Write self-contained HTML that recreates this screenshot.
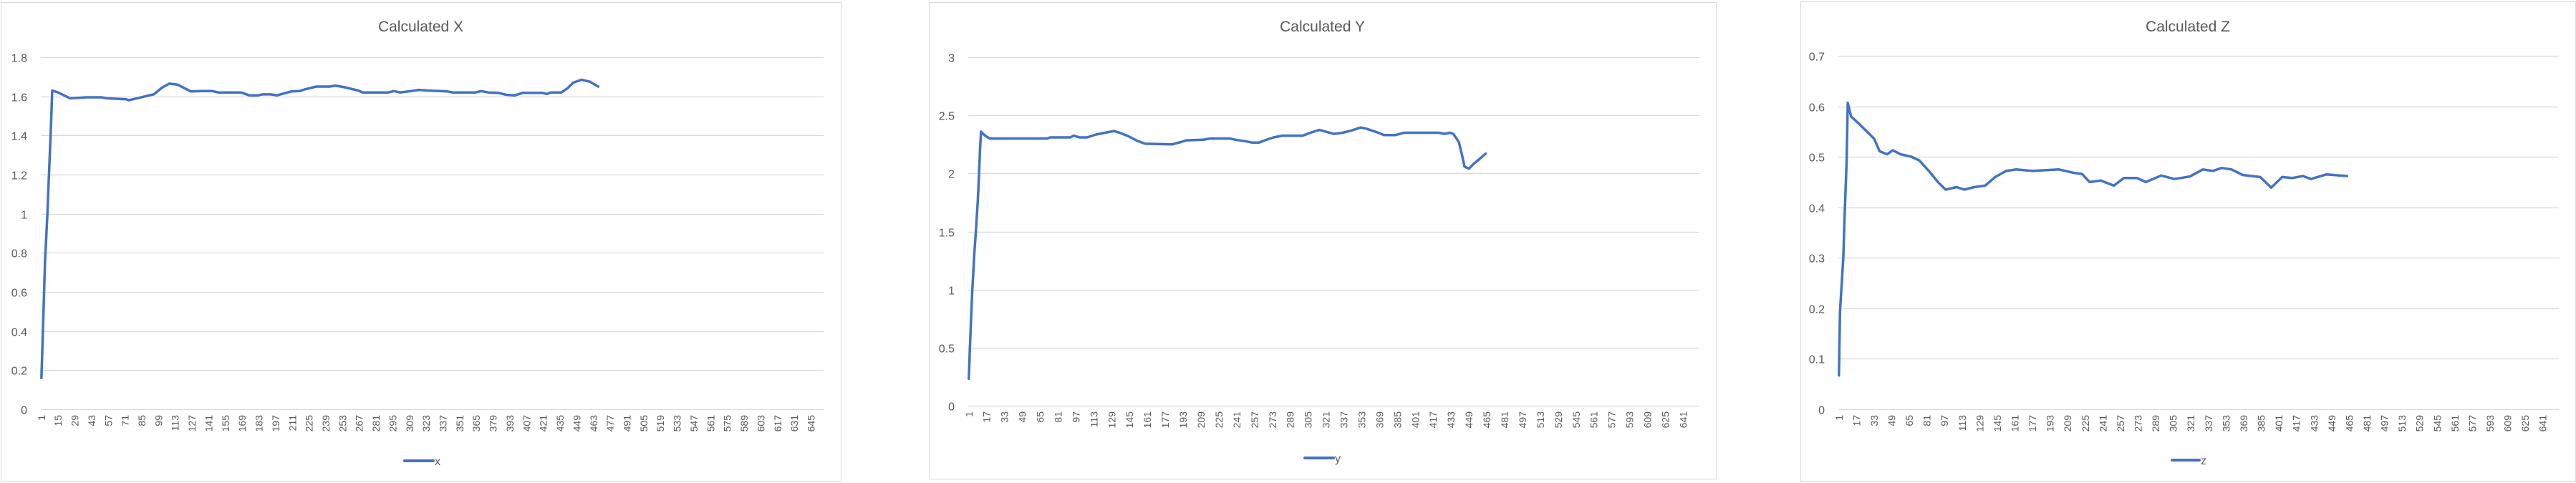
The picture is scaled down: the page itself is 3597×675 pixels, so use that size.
<!DOCTYPE html>
<html><head><meta charset="utf-8"><style>
html,body{margin:0;padding:0;background:#fff;}
svg{display:block;font-family:"Liberation Sans",Arial,sans-serif;}
</style></head><body>
<svg id="root" width="3597" height="675" viewBox="0 0 3597 675"></svg>
<script>
// ---- data (category index, value) ----
const xIdx=[1,2,4,6,7,8,9,10,15,25,39,51,56,72,74,81,91,95,102,108,115,126,135,144,149,168,175,182,186,193,198,210,217,221,231,242,247,256,266,270,291,296,301,308,317,324,341,345,364,369,375,383,390,397,404,420,424,427,436,441,446,453,460,467];
const xVals=[0.16,0.35,0.75,1.0,1.15,1.3,1.45,1.63,1.62,1.59,1.595,1.595,1.59,1.585,1.58,1.59,1.605,1.61,1.645,1.665,1.66,1.625,1.627,1.627,1.62,1.62,1.605,1.605,1.61,1.61,1.605,1.625,1.627,1.635,1.65,1.65,1.655,1.645,1.63,1.62,1.62,1.627,1.62,1.625,1.633,1.63,1.625,1.62,1.62,1.627,1.62,1.618,1.608,1.605,1.618,1.618,1.612,1.62,1.62,1.64,1.67,1.685,1.675,1.65];
const yIdx=[1,2,4,6,7,9,10,11,12,15,18,20,71,74,92,95,100,107,115,123,131,136,144,152,159,183,191,196,211,217,235,240,250,255,261,266,274,282,300,307,315,328,336,344,352,357,365,373,383,391,422,427,432,435,440,443,445,449,453,458,464];
const yVals=[0.233,0.5,0.975,1.32,1.45,1.75,1.95,2.2,2.36,2.33,2.31,2.30,2.30,2.31,2.31,2.325,2.31,2.31,2.335,2.35,2.365,2.35,2.32,2.28,2.255,2.25,2.27,2.285,2.29,2.30,2.30,2.29,2.275,2.265,2.265,2.285,2.31,2.325,2.325,2.35,2.375,2.34,2.35,2.37,2.395,2.385,2.36,2.33,2.33,2.35,2.35,2.34,2.35,2.34,2.27,2.15,2.06,2.04,2.08,2.12,2.17];
const zIdx=[1,2,5,6,8,9,12,19,26,33,38,45,50,57,67,74,84,91,98,108,115,124,134,143,153,162,177,201,215,222,229,239,251,260,272,280,294,306,320,332,341,349,358,368,384,394,404,413,423,430,444,463];
const zVals=[0.067,0.194,0.30,0.37,0.49,0.607,0.58,0.566,0.551,0.536,0.511,0.505,0.513,0.505,0.50,0.493,0.469,0.45,0.435,0.44,0.435,0.44,0.443,0.46,0.472,0.475,0.472,0.475,0.468,0.466,0.45,0.453,0.443,0.458,0.458,0.45,0.463,0.456,0.461,0.475,0.472,0.478,0.475,0.464,0.46,0.439,0.46,0.458,0.462,0.456,0.465,0.462];
const xTicks=[0,0.2,0.4,0.6,0.8,1,1.2,1.4,1.6,1.8];
const yTicks=[0,0.5,1,1.5,2,2.5,3];
const zTicks=[0,0.1,0.2,0.3,0.4,0.5,0.6,0.7];
const nCats=655;

const NS='http://www.w3.org/2000/svg';
const root=document.getElementById('root');
function mk(tag,attrs,parent){const e=document.createElementNS(NS,tag);for(const k in attrs)e.setAttribute(k,attrs[k]);parent.appendChild(e);return e;}

function drawChart(cfg){
  const g=mk('g',{},root);
  
  
  const fr=mk('rect',{x:cfg.fx0+0.5,y:cfg.fy0+0.5,width:cfg.fx1-cfg.fx0,height:cfg.fy1-cfg.fy0,fill:'#fff',stroke:'#d9d9d9','stroke-width':1},g);
  
  
  const t=mk('text',{x:(cfg.fx0+cfg.fx1)/2,y:44,'text-anchor':'middle','font-size':21,fill:'#595959'},g);
  t.textContent=cfg.title;
  
  
  const ymax=cfg.ticks[cfg.ticks.length-1];
  const sy=v=>cfg.py1-(v/ymax)*(cfg.py1-cfg.py0);
  const cw=(cfg.px1-cfg.px0)/nCats;
  const sx=i=>cfg.px0+(i-0.5)*cw;
  cfg.ticks.forEach(v=>{
    const y=Math.round(sy(v))+0.5;
    const l=mk('line',{x1:cfg.px0,x2:cfg.px1,y1:y,y2:y,stroke:'#d9d9d9','stroke-width':1.3},g);
    
    
    const tl=mk('text',{x:cfg.px0-19,y:y+6,'text-anchor':'end','font-size':16,fill:'#595959'},g);
    tl.textContent=String(v);
    
    
  });
  for(let i=1;i<=nCats;i+=cfg.step){
    const x=sx(i);
    const tl=mk('text',{transform:'translate('+(x+5)+','+(cfg.py1+8)+') rotate(-90)','text-anchor':'end','font-size':14,fill:'#595959'},g);
    tl.textContent=String(i);
    
    
  }
  const pts=cfg.idx.map((c,k)=>sx(c).toFixed(1)+','+sy(cfg.vals[k]).toFixed(1)).join(' ');
  const pl=mk('polyline',{points:pts,fill:'none',stroke:'#4472c4','stroke-width':3.5,'stroke-linejoin':'round','stroke-linecap':'round'},g);
  
  
  const lg=mk('g',{},g);
  
  
  mk('line',{x1:cfg.lx,x2:cfg.lx+cfg.lw,y1:cfg.ly,y2:cfg.ly,stroke:'#4472c4','stroke-width':4,'stroke-linecap':'round'},lg);
  const lt=mk('text',{x:cfg.lx+cfg.lw+2,y:cfg.ly+6,'font-size':16,fill:'#595959'},lg);
  lt.textContent=cfg.series;
}
drawChart({key:'x',title:'Calculated X',series:'x',fx0:1,fy0:3,fx1:1174,fy1:672,px0:57,px1:1150,py0:80,py1:572,ticks:xTicks,step:14,idx:xIdx,vals:xVals,lx:565,lw:40,ly:644});
drawChart({key:'y',title:'Calculated Y',series:'y',fx0:1297,fy0:3,fx1:2396,fy1:669,px0:1352,px1:2373,py0:80,py1:567,ticks:yTicks,step:16,idx:yIdx,vals:yVals,lx:1822,lw:40,ly:640});
drawChart({key:'z',title:'Calculated Z',series:'z',fx0:2514,fy0:2,fx1:3596,fy1:672,px0:2567,px1:3573,py0:78,py1:572,ticks:zTicks,step:16,idx:zIdx,vals:zVals,lx:3033,lw:38,ly:643});
</script>
</body></html>
